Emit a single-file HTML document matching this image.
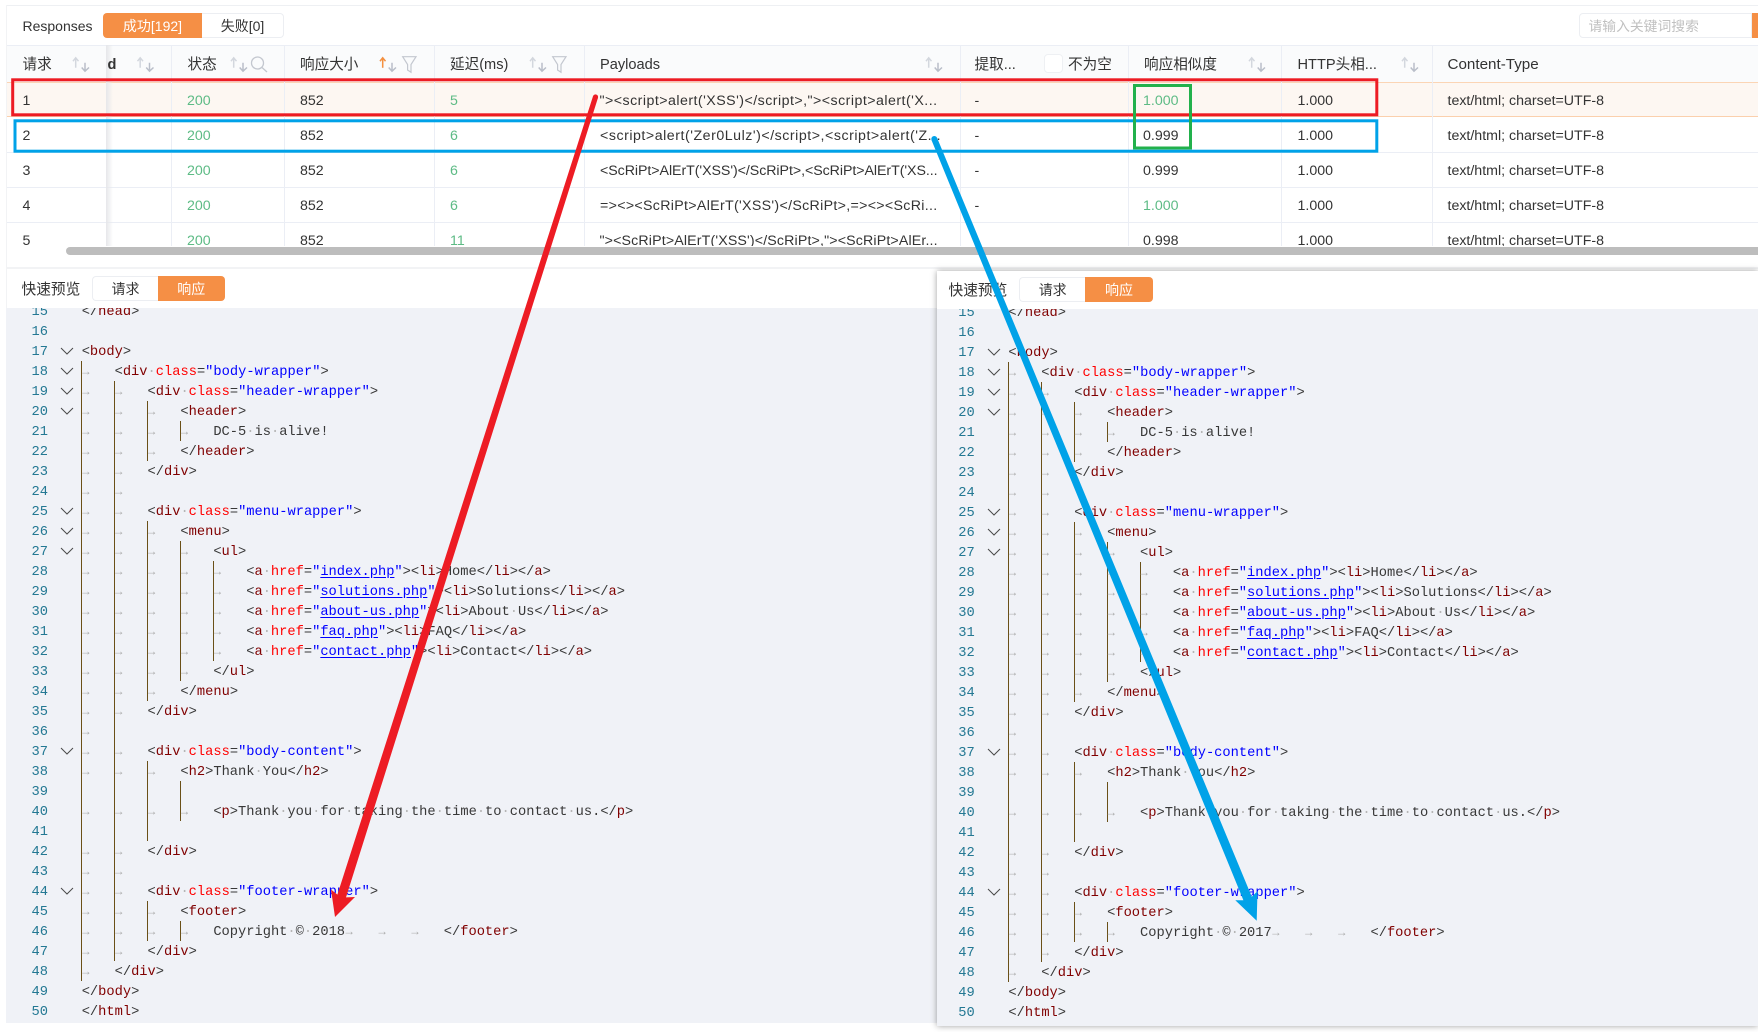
<!DOCTYPE html>
<html><head><meta charset="utf-8"><title>Responses</title>
<style>
html,body{margin:0;padding:0;background:#fff;width:1758px;height:1032px;overflow:hidden}
body{position:relative;font-family:"Liberation Sans","Noto Sans CJK SC",sans-serif;font-size:14.2px;color:#333}
.a{position:absolute;white-space:pre}
.t{position:absolute;white-space:pre;line-height:20px}
.g{color:#5dbb85}
.h{font-size:14.6px;color:#333}
.p{letter-spacing:.47px}
.ln{position:absolute;background:#ebeef5}
.btn{position:absolute;text-align:center;box-sizing:border-box;border-radius:0;font-size:14px}
.code{position:absolute;overflow:hidden;background:#f0f2f7;font-family:"Liberation Mono",monospace;font-size:13.72px;line-height:20px;color:#383838}
.inner{position:absolute;top:-7px;width:1000px}
.l{height:20px;padding-left:81.7px;position:relative;top:2px;white-space:pre}
.n{position:absolute;left:0;width:48px;text-align:right;color:#237893}
.code b{font-weight:normal;color:#800000}
.code em{font-style:normal;color:#f00}
.code var{font-style:normal;color:#00f}
.code u{font-style:normal;color:#00f;text-decoration:underline;text-underline-offset:2px}
.code s{text-decoration:none;color:#b5b5b5}
.code i{display:inline-block;width:32.92px;font-style:normal;font-size:12px;color:#aaa;line-height:18px;vertical-align:top;text-indent:.5px}
.guides{position:absolute;left:0;top:0}
</style></head><body>

<!-- top bar -->
<div class="ln" style="left:6px;top:5px;width:1752px;height:1px;background:#eef0f3"></div>
<div class="ln" style="left:6px;top:5px;width:1px;height:303px;background:#f2f3f5"></div>
<div class="t" style="left:22.5px;top:16px;font-size:14px">Responses</div>
<div class="btn" style="left:103px;top:13px;width:99px;height:25px;line-height:26px;background:#f58f45;color:#fff;border-radius:4px 0 0 4px">成功[192]</div>
<div class="btn" style="left:202px;top:13px;width:82px;height:25px;line-height:24px;border:1px solid #eceef2;border-left:0;border-radius:0 4px 4px 0">失败[0]</div>
<div class="a" style="left:1578.5px;top:13px;width:173px;height:25px;box-sizing:border-box;border:1px solid #eceef2;border-radius:4px 0 0 4px;line-height:26px;padding-left:9px;font-size:13.8px;color:#c0c0c0">请输入关键词搜索</div>
<div class="a" style="left:1751.5px;top:13px;width:7px;height:25px;background:#f58f45"></div>

<!-- table -->
<div style="position:absolute;left:7px;top:0;width:1751px;height:246px;overflow:hidden">
<div style="position:absolute;left:-7px;top:0;width:1758px;height:246px">
  <div class="a" style="left:7px;top:45px;width:1751px;height:37px;background:#fafbfc;border-top:1px solid #ebeef5;box-sizing:border-box"></div>
  <div class="a" style="left:7px;top:82px;width:1751px;height:35px;background:#fdf7f2;border-top:1px solid #fbd5b5;border-bottom:1px solid #fbd0ad;box-sizing:border-box"></div>
  <div class="ln" style="left:7px;top:152px;width:1751px;height:1px"></div>
  <div class="ln" style="left:7px;top:187px;width:1751px;height:1px"></div>
  <div class="ln" style="left:7px;top:222px;width:1751px;height:1px"></div>
  <div class="ln" style="left:171px;top:45px;width:1px;height:201px"></div>
  <div class="ln" style="left:284px;top:45px;width:1px;height:201px"></div>
  <div class="ln" style="left:434px;top:45px;width:1px;height:201px"></div>
  <div class="ln" style="left:584px;top:45px;width:1px;height:201px"></div>
  <div class="ln" style="left:960px;top:45px;width:1px;height:201px"></div>
  <div class="ln" style="left:1128px;top:45px;width:1px;height:201px"></div>
  <div class="ln" style="left:1281px;top:45px;width:1px;height:201px"></div>
  <div class="ln" style="left:1432px;top:45px;width:1px;height:201px"></div>
  <div class="a" style="left:106px;top:45px;width:7px;height:201px;background:linear-gradient(to right,#e6e7ea,rgba(240,240,240,0))"></div>

  <span class="t h" style="left:22.5px;top:55px">请求</span>
  <span class="t h" style="left:107.5px;top:55px;font-weight:bold">d</span>
  <span class="t h" style="left:187.5px;top:55px">状态</span>
  <span class="t h" style="left:300px;top:55px">响应大小</span>
  <span class="t h" style="left:450px;top:55px">延迟(ms)</span>
  <span class="t h" style="left:600px;top:55px">Payloads</span>
  <span class="t h" style="left:974.5px;top:55px">提取...</span>
  <span class="t h" style="left:1068px;top:55px">不为空</span>
  <span class="t h" style="left:1144px;top:55px">响应相似度</span>
  <span class="t h" style="left:1297.5px;top:55px">HTTP头相...</span>
  <span class="t h" style="left:1447.5px;top:55px;font-size:15.2px">Content-Type</span>
  <div class="a" style="left:1044px;top:54px;width:19px;height:19px;box-sizing:border-box;background:#fff;border:1px solid #eef0f3;border-radius:4px"></div>

  <!-- row 1 -->
  <span class="t" style="left:22.5px;top:91px">1</span><span class="t g" style="left:187px;top:91px">200</span><span class="t" style="left:300px;top:91px">852</span><span class="t g" style="left:450px;top:91px">5</span>
  <span class="t p" style="left:599.5px;top:91px">"&gt;&lt;script&gt;alert('XSS')&lt;/script&gt;,"&gt;&lt;script&gt;alert('X...</span>
  <span class="t" style="left:974.5px;top:91px">-</span><span class="t g" style="left:1143px;top:91px">1.000</span><span class="t" style="left:1297.5px;top:91px">1.000</span><span class="t" style="left:1447.5px;top:91px">text/html; charset=UTF-8</span>
  <!-- row 2 -->
  <span class="t" style="left:22.5px;top:126px">2</span><span class="t g" style="left:187px;top:126px">200</span><span class="t" style="left:300px;top:126px">852</span><span class="t g" style="left:450px;top:126px">6</span>
  <span class="t p" style="left:600px;top:126px;letter-spacing:.53px">&lt;script&gt;alert('Zer0Lulz')&lt;/script&gt;,&lt;script&gt;alert('Z...</span>
  <span class="t" style="left:974.5px;top:126px">-</span><span class="t" style="left:1143px;top:126px">0.999</span><span class="t" style="left:1297.5px;top:126px">1.000</span><span class="t" style="left:1447.5px;top:126px">text/html; charset=UTF-8</span>
  <!-- row 3 -->
  <span class="t" style="left:22.5px;top:161px">3</span><span class="t g" style="left:187px;top:161px">200</span><span class="t" style="left:300px;top:161px">852</span><span class="t g" style="left:450px;top:161px">6</span>
  <span class="t p" style="left:600px;top:161px;letter-spacing:-.05px">&lt;ScRiPt&gt;AlErT('XSS')&lt;/ScRiPt&gt;,&lt;ScRiPt&gt;AlErT('XS...</span>
  <span class="t" style="left:974.5px;top:161px">-</span><span class="t" style="left:1143px;top:161px">0.999</span><span class="t" style="left:1297.5px;top:161px">1.000</span><span class="t" style="left:1447.5px;top:161px">text/html; charset=UTF-8</span>
  <!-- row 4 -->
  <span class="t" style="left:22.5px;top:196px">4</span><span class="t g" style="left:187px;top:196px">200</span><span class="t" style="left:300px;top:196px">852</span><span class="t g" style="left:450px;top:196px">6</span>
  <span class="t p" style="left:600px;top:196px;letter-spacing:.32px">=&gt;&lt;&gt;&lt;ScRiPt&gt;AlErT('XSS')&lt;/ScRiPt&gt;,=&gt;&lt;&gt;&lt;ScRi...</span>
  <span class="t" style="left:974.5px;top:196px">-</span><span class="t g" style="left:1143px;top:196px">1.000</span><span class="t" style="left:1297.5px;top:196px">1.000</span><span class="t" style="left:1447.5px;top:196px">text/html; charset=UTF-8</span>
  <!-- row 5 -->
  <span class="t" style="left:22.5px;top:231px">5</span><span class="t g" style="left:187px;top:231px">200</span><span class="t" style="left:300px;top:231px">852</span><span class="t g" style="left:450px;top:231px">11</span>
  <span class="t p" style="left:599.5px;top:231px;letter-spacing:.15px">"&gt;&lt;ScRiPt&gt;AlErT('XSS')&lt;/ScRiPt&gt;,"&gt;&lt;ScRiPt&gt;AlEr...</span>
  <span class="t" style="left:1143px;top:231px">0.998</span><span class="t" style="left:1297.5px;top:231px">1.000</span><span class="t" style="left:1447.5px;top:231px">text/html; charset=UTF-8</span>
</div></div>

<!-- header icons -->
<svg class="a" style="left:0;top:0" width="1758" height="90" fill="none">
  <defs>
    <g id="srt"><path d="M2.7 2.3V12.3M0 5.7L2.7 2.3L5.5 5.7" stroke="#d3d7de" stroke-width="1.5"/><path d="M12 7.3V15.7M8.7 12L12 15.7L16 12" stroke="#b9bec9" stroke-width="1.5"/></g>
    <path id="fl" d="M.7.7H14L9 8.5V16.3L5.6 14V8.5Z" stroke="#c3c7cf" stroke-width="1.2"/>
  </defs>
  <use href="#srt" x="73" y="55.5"/><use href="#srt" x="137.5" y="55.5"/><use href="#srt" x="231" y="55.5"/>
  <use href="#srt" x="380" y="55.5"/><path d="M382.7 57.8V67.8M380 61.2L382.7 57.8L385.5 61.2" stroke="#f5903f" stroke-width="1.5"/>
  <use href="#srt" x="530" y="55.5"/><use href="#srt" x="926" y="55.5"/><use href="#srt" x="1249" y="55.5"/><use href="#srt" x="1402" y="55.5"/>
  <use href="#fl" x="402" y="56"/><use href="#fl" x="552" y="56"/>
  <circle cx="257.5" cy="63" r="6" stroke="#c3c7cf" stroke-width="1.3"/><path d="M262 67.5L267 72" stroke="#c3c7cf" stroke-width="1.3"/>
</svg>

<!-- scrollbar + divider -->
<div class="a" style="left:66px;top:247px;width:1692px;height:8px;background:#bdbdbd;border-radius:4px 0 0 4px"></div>
<div class="a" style="left:6px;top:267px;width:1752px;height:2px;background:#f2f3f5"></div>

<!-- left preview header -->
<div class="t" style="left:21.5px;top:280px;font-size:14.7px">快速预览</div>
<div class="btn" style="left:92px;top:276px;width:66px;height:25px;line-height:24px;border:1px solid #eceef2;border-right:0;border-radius:4px 0 0 4px">请求</div>
<div class="btn" style="left:158px;top:276px;width:66.5px;height:25px;line-height:26px;background:#f58f45;color:#fff;border-radius:0 4px 4px 0">响应</div>

<!-- left code -->
<div class="code" style="left:6px;top:308px;width:931px;height:715px">
<svg width="0" height="0" style="position:absolute"><defs><g id="gd" fill="none">
  <path shape-rendering="crispEdges" stroke="#6a5018" d="M81.5 60V680M114.5 80V660M147.5 100V160M147.5 220V400M147.5 460V540M147.5 600V640M180.5 120V140M180.5 240V380M180.5 480V520M180.5 620V640M213.5 260V360"/>
  <path stroke="#4a4a4a" d="M61 47L67 53L73 47M61 67L67 73L73 67M61 87L67 93L73 87M61 107L67 113L73 107M61 207L67 213L73 207M61 227L67 233L73 227M61 247L67 253L73 247M61 447L67 453L73 447M61 587L67 593L73 587"/>
</g></defs></svg>
<div class="inner" style="left:-6px">
<svg class="guides" width="300" height="720"><use href="#gd"/></svg>
<div class="l"><span class="n">15</span>&lt;/<b>head</b>&gt;</div>
<div class="l"><span class="n">16</span></div>
<div class="l"><span class="n">17</span>&lt;<b>body</b>&gt;</div>
<div class="l"><span class="n">18</span><i>→</i>&lt;<b>div</b><s>·</s><em>class</em>=<var>"body-wrapper"</var>&gt;</div>
<div class="l"><span class="n">19</span><i>→</i><i>→</i>&lt;<b>div</b><s>·</s><em>class</em>=<var>"header-wrapper"</var>&gt;</div>
<div class="l"><span class="n">20</span><i>→</i><i>→</i><i>→</i>&lt;<b>header</b>&gt;</div>
<div class="l"><span class="n">21</span><i>→</i><i>→</i><i>→</i><i>→</i>DC-5<s>·</s>is<s>·</s>alive!</div>
<div class="l"><span class="n">22</span><i>→</i><i>→</i><i>→</i>&lt;/<b>header</b>&gt;</div>
<div class="l"><span class="n">23</span><i>→</i><i>→</i>&lt;/<b>div</b>&gt;</div>
<div class="l"><span class="n">24</span><i>→</i><i>→</i></div>
<div class="l"><span class="n">25</span><i>→</i><i>→</i>&lt;<b>div</b><s>·</s><em>class</em>=<var>"menu-wrapper"</var>&gt;</div>
<div class="l"><span class="n">26</span><i>→</i><i>→</i><i>→</i>&lt;<b>menu</b>&gt;</div>
<div class="l"><span class="n">27</span><i>→</i><i>→</i><i>→</i><i>→</i>&lt;<b>ul</b>&gt;</div>
<div class="l"><span class="n">28</span><i>→</i><i>→</i><i>→</i><i>→</i><i>→</i>&lt;<b>a</b><s>·</s><em>href</em>=<var>"<u>index.php</u>"</var>&gt;&lt;<b>li</b>&gt;Home&lt;/<b>li</b>&gt;&lt;/<b>a</b>&gt;</div>
<div class="l"><span class="n">29</span><i>→</i><i>→</i><i>→</i><i>→</i><i>→</i>&lt;<b>a</b><s>·</s><em>href</em>=<var>"<u>solutions.php</u>"</var>&gt;&lt;<b>li</b>&gt;Solutions&lt;/<b>li</b>&gt;&lt;/<b>a</b>&gt;</div>
<div class="l"><span class="n">30</span><i>→</i><i>→</i><i>→</i><i>→</i><i>→</i>&lt;<b>a</b><s>·</s><em>href</em>=<var>"<u>about-us.php</u>"</var>&gt;&lt;<b>li</b>&gt;About<s>·</s>Us&lt;/<b>li</b>&gt;&lt;/<b>a</b>&gt;</div>
<div class="l"><span class="n">31</span><i>→</i><i>→</i><i>→</i><i>→</i><i>→</i>&lt;<b>a</b><s>·</s><em>href</em>=<var>"<u>faq.php</u>"</var>&gt;&lt;<b>li</b>&gt;FAQ&lt;/<b>li</b>&gt;&lt;/<b>a</b>&gt;</div>
<div class="l"><span class="n">32</span><i>→</i><i>→</i><i>→</i><i>→</i><i>→</i>&lt;<b>a</b><s>·</s><em>href</em>=<var>"<u>contact.php</u>"</var>&gt;&lt;<b>li</b>&gt;Contact&lt;/<b>li</b>&gt;&lt;/<b>a</b>&gt;</div>
<div class="l"><span class="n">33</span><i>→</i><i>→</i><i>→</i><i>→</i>&lt;/<b>ul</b>&gt;</div>
<div class="l"><span class="n">34</span><i>→</i><i>→</i><i>→</i>&lt;/<b>menu</b>&gt;</div>
<div class="l"><span class="n">35</span><i>→</i><i>→</i>&lt;/<b>div</b>&gt;</div>
<div class="l"><span class="n">36</span><i>→</i></div>
<div class="l"><span class="n">37</span><i>→</i><i>→</i>&lt;<b>div</b><s>·</s><em>class</em>=<var>"body-content"</var>&gt;</div>
<div class="l"><span class="n">38</span><i>→</i><i>→</i><i>→</i>&lt;<b>h2</b>&gt;Thank<s>·</s>You&lt;/<b>h2</b>&gt;</div>
<div class="l"><span class="n">39</span></div>
<div class="l"><span class="n">40</span><i>→</i><i>→</i><i>→</i><i>→</i>&lt;<b>p</b>&gt;Thank<s>·</s>you<s>·</s>for<s>·</s>taking<s>·</s>the<s>·</s>time<s>·</s>to<s>·</s>contact<s>·</s>us.&lt;/<b>p</b>&gt;</div>
<div class="l"><span class="n">41</span></div>
<div class="l"><span class="n">42</span><i>→</i><i>→</i>&lt;/<b>div</b>&gt;</div>
<div class="l"><span class="n">43</span><i>→</i><i>→</i></div>
<div class="l"><span class="n">44</span><i>→</i><i>→</i>&lt;<b>div</b><s>·</s><em>class</em>=<var>"footer-wrapper"</var>&gt;</div>
<div class="l"><span class="n">45</span><i>→</i><i>→</i><i>→</i>&lt;<b>footer</b>&gt;</div>
<div class="l"><span class="n">46</span><i>→</i><i>→</i><i>→</i><i>→</i>Copyright<s>·</s>©<s>·</s>2018<i>→</i><i>→</i><i>→</i>&lt;/<b>footer</b>&gt;</div>
<div class="l"><span class="n">47</span><i>→</i><i>→</i>&lt;/<b>div</b>&gt;</div>
<div class="l"><span class="n">48</span><i>→</i>&lt;/<b>div</b>&gt;</div>
<div class="l"><span class="n">49</span>&lt;/<b>body</b>&gt;</div>
<div class="l"><span class="n">50</span>&lt;/<b>html</b>&gt;</div>
</div></div>

<!-- right panel -->
<div class="a" style="left:937px;top:271px;width:821px;height:755px;background:#fff;box-shadow:0 0 6px rgba(0,0,0,.38)"></div>
<div class="t" style="left:948.5px;top:281px;font-size:14.7px">快速预览</div>
<div class="btn" style="left:1019px;top:277px;width:66.4px;height:25px;line-height:24px;border:1px solid #eceef2;border-right:0;border-radius:4px 0 0 4px">请求</div>
<div class="btn" style="left:1085.4px;top:277px;width:67.3px;height:25px;line-height:26px;background:#f58f45;color:#fff;border-radius:0 4px 4px 0">响应</div>

<div class="code" style="left:937px;top:309px;width:821px;height:716.5px">
<div class="inner" style="left:-10.3px">
<svg class="guides" width="300" height="720"><use href="#gd"/></svg>
<div class="l"><span class="n">15</span>&lt;/<b>head</b>&gt;</div>
<div class="l"><span class="n">16</span></div>
<div class="l"><span class="n">17</span>&lt;<b>body</b>&gt;</div>
<div class="l"><span class="n">18</span><i>→</i>&lt;<b>div</b><s>·</s><em>class</em>=<var>"body-wrapper"</var>&gt;</div>
<div class="l"><span class="n">19</span><i>→</i><i>→</i>&lt;<b>div</b><s>·</s><em>class</em>=<var>"header-wrapper"</var>&gt;</div>
<div class="l"><span class="n">20</span><i>→</i><i>→</i><i>→</i>&lt;<b>header</b>&gt;</div>
<div class="l"><span class="n">21</span><i>→</i><i>→</i><i>→</i><i>→</i>DC-5<s>·</s>is<s>·</s>alive!</div>
<div class="l"><span class="n">22</span><i>→</i><i>→</i><i>→</i>&lt;/<b>header</b>&gt;</div>
<div class="l"><span class="n">23</span><i>→</i><i>→</i>&lt;/<b>div</b>&gt;</div>
<div class="l"><span class="n">24</span><i>→</i><i>→</i></div>
<div class="l"><span class="n">25</span><i>→</i><i>→</i>&lt;<b>div</b><s>·</s><em>class</em>=<var>"menu-wrapper"</var>&gt;</div>
<div class="l"><span class="n">26</span><i>→</i><i>→</i><i>→</i>&lt;<b>menu</b>&gt;</div>
<div class="l"><span class="n">27</span><i>→</i><i>→</i><i>→</i><i>→</i>&lt;<b>ul</b>&gt;</div>
<div class="l"><span class="n">28</span><i>→</i><i>→</i><i>→</i><i>→</i><i>→</i>&lt;<b>a</b><s>·</s><em>href</em>=<var>"<u>index.php</u>"</var>&gt;&lt;<b>li</b>&gt;Home&lt;/<b>li</b>&gt;&lt;/<b>a</b>&gt;</div>
<div class="l"><span class="n">29</span><i>→</i><i>→</i><i>→</i><i>→</i><i>→</i>&lt;<b>a</b><s>·</s><em>href</em>=<var>"<u>solutions.php</u>"</var>&gt;&lt;<b>li</b>&gt;Solutions&lt;/<b>li</b>&gt;&lt;/<b>a</b>&gt;</div>
<div class="l"><span class="n">30</span><i>→</i><i>→</i><i>→</i><i>→</i><i>→</i>&lt;<b>a</b><s>·</s><em>href</em>=<var>"<u>about-us.php</u>"</var>&gt;&lt;<b>li</b>&gt;About<s>·</s>Us&lt;/<b>li</b>&gt;&lt;/<b>a</b>&gt;</div>
<div class="l"><span class="n">31</span><i>→</i><i>→</i><i>→</i><i>→</i><i>→</i>&lt;<b>a</b><s>·</s><em>href</em>=<var>"<u>faq.php</u>"</var>&gt;&lt;<b>li</b>&gt;FAQ&lt;/<b>li</b>&gt;&lt;/<b>a</b>&gt;</div>
<div class="l"><span class="n">32</span><i>→</i><i>→</i><i>→</i><i>→</i><i>→</i>&lt;<b>a</b><s>·</s><em>href</em>=<var>"<u>contact.php</u>"</var>&gt;&lt;<b>li</b>&gt;Contact&lt;/<b>li</b>&gt;&lt;/<b>a</b>&gt;</div>
<div class="l"><span class="n">33</span><i>→</i><i>→</i><i>→</i><i>→</i>&lt;/<b>ul</b>&gt;</div>
<div class="l"><span class="n">34</span><i>→</i><i>→</i><i>→</i>&lt;/<b>menu</b>&gt;</div>
<div class="l"><span class="n">35</span><i>→</i><i>→</i>&lt;/<b>div</b>&gt;</div>
<div class="l"><span class="n">36</span><i>→</i></div>
<div class="l"><span class="n">37</span><i>→</i><i>→</i>&lt;<b>div</b><s>·</s><em>class</em>=<var>"body-content"</var>&gt;</div>
<div class="l"><span class="n">38</span><i>→</i><i>→</i><i>→</i>&lt;<b>h2</b>&gt;Thank<s>·</s>You&lt;/<b>h2</b>&gt;</div>
<div class="l"><span class="n">39</span></div>
<div class="l"><span class="n">40</span><i>→</i><i>→</i><i>→</i><i>→</i>&lt;<b>p</b>&gt;Thank<s>·</s>you<s>·</s>for<s>·</s>taking<s>·</s>the<s>·</s>time<s>·</s>to<s>·</s>contact<s>·</s>us.&lt;/<b>p</b>&gt;</div>
<div class="l"><span class="n">41</span></div>
<div class="l"><span class="n">42</span><i>→</i><i>→</i>&lt;/<b>div</b>&gt;</div>
<div class="l"><span class="n">43</span><i>→</i><i>→</i></div>
<div class="l"><span class="n">44</span><i>→</i><i>→</i>&lt;<b>div</b><s>·</s><em>class</em>=<var>"footer-wrapper"</var>&gt;</div>
<div class="l"><span class="n">45</span><i>→</i><i>→</i><i>→</i>&lt;<b>footer</b>&gt;</div>
<div class="l"><span class="n">46</span><i>→</i><i>→</i><i>→</i><i>→</i>Copyright<s>·</s>©<s>·</s>2017<i>→</i><i>→</i><i>→</i>&lt;/<b>footer</b>&gt;</div>
<div class="l"><span class="n">47</span><i>→</i><i>→</i>&lt;/<b>div</b>&gt;</div>
<div class="l"><span class="n">48</span><i>→</i>&lt;/<b>div</b>&gt;</div>
<div class="l"><span class="n">49</span>&lt;/<b>body</b>&gt;</div>
<div class="l"><span class="n">50</span>&lt;/<b>html</b>&gt;</div>
</div></div>

<!-- annotations -->
<svg class="a" style="left:0;top:0" width="1758" height="1032">
  <rect x="12.7" y="79.8" width="1364.1" height="35" fill="none" stroke="#ed1c24" stroke-width="3"/>
  <rect x="15" y="120.8" width="1361.8" height="30.4" fill="none" stroke="#00a2e8" stroke-width="3"/>
  <rect x="1134.5" y="85.5" width="56" height="62.5" fill="none" stroke="#22b14c" stroke-width="3"/>
  <circle cx="595.5" cy="97" r="2.6" fill="#ed1c24"/>
  <polygon fill="#ed1c24" points="598,97.8 346,897.4 355,897 335,917 331,889.5 337.4,894.6 593,96.2"/>
  <circle cx="934.3" cy="139" r="3" fill="#00a2e8"/>
  <polygon fill="#00a2e8" points="937.1,137.9 1251.8,896.8 1257.5,891.1 1256.7,920.7 1235.3,900.3 1243.4,900.2 931.5,140.1"/>
</svg>
</body></html>
